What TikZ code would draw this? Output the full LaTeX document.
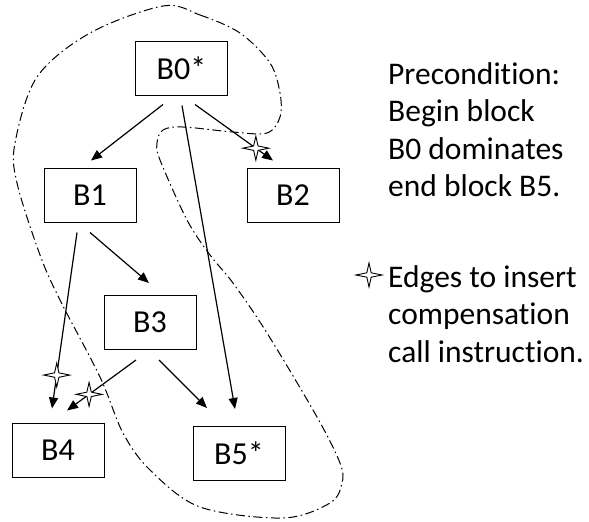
\documentclass[tikz,border=0pt]{standalone}
\usepackage{fontspec}
\setmainfont{Carlito}[Ligatures={NoCommon}]
\usetikzlibrary{arrows.meta,calc}
\tikzset{
  blk/.style={draw, line width=1pt, minimum width=92pt, minimum height=54pt, inner sep=0pt, font=\fontsize{32}{36}\selectfont},
  arr/.style={line width=1.2pt, -{Triangle[length=11pt,width=9pt]}},
  region/.style={line width=1pt, dash pattern=on 9pt off 3.5pt on 1.5pt off 3.5pt},
  txt/.style={align=left, inner sep=0pt, anchor=north west, font=\fontsize{31.5}{37.5}\selectfont},
  cstar/.pic={\filldraw[fill=white, draw=black, line width=0.9pt]
     (-13,0) -- (-2.2,-2.2) -- (0,-12) -- (2.2,-2.2) -- (13,0) -- (2.2,2.2) -- (0,12) -- (-2.2,2.2) -- cycle;}
}
\begin{document}
\begin{tikzpicture}[x=1pt,y=-1pt]
\useasboundingbox (0,0) rectangle (589,522);
\node[blk] (b0) at (181.5,68) {B0*};
\node[blk] (b1) at (90,195) {B1};
\node[blk] (b2) at (293,195) {B2};
\node[blk] (b3) at (150,322.5) {B3};
\node[blk] (b4) at (58,450) {B4};
\node[blk] (b5) at (239,453.5) {B5*};

\draw[arr] ($(b0.south)+(-18.5,9)$) -- ($(b1.north)+(1,-7)$);
\draw[arr] ($(b0.south)+(0.5,10)$) -- ($(b5.north)+(-4,-17)$);
\draw[arr] ($(b0.south)+(13.5,9)$) -- coordinate[pos=0.78] (s1) ($(b2.north)+(-20,-7)$);
\draw[arr] ($(b1.south)+(-13,10)$) -- coordinate[pos=0.81] (s2) ($(b4.north)+(-6,-14)$);
\draw[arr] ($(b1.south)+(0,10)$) -- ($(b3.north)+(-1,-12)$);
\draw[arr] ($(b3.south)+(-14,10)$) -- coordinate[pos=0.68] (s3) ($(b4.north)+(9,-12)$);
\draw[arr] ($(b3.south)+(9,10)$) -- ($(b5.north)+(-32,-18)$);

\draw[region] plot[smooth cycle, tension=0.55] coordinates {
 (163,6) (200,15) (240,33) (270,63) (280,93) (280,117) (267,133) (233,132)
 (183,127) (163,130) (157,143) (160,160) (187,220) (210,255) (233,283)
 (267,333) (317,417) (340,463) (342,483) (330,503) (283,518) (200,507)
 (150,470) (123,433) (100,377) (60,300) (40,255) (17,183) (15,143) (37,77) (90,33)};

\pic at (s1) {cstar};
\pic at (s2) {cstar};
\pic at (s3) {cstar};
\coordinate (ls) at (369,275);
\pic at (ls) {cstar};

\node[txt] (pre) at (388,62) {Precondition:\\Begin block\\B0 dominates\\end block B5.};
\node[txt] (leg) at (388,265) {Edges to insert\\compensation\\call instruction.};
\end{tikzpicture}
\end{document}
